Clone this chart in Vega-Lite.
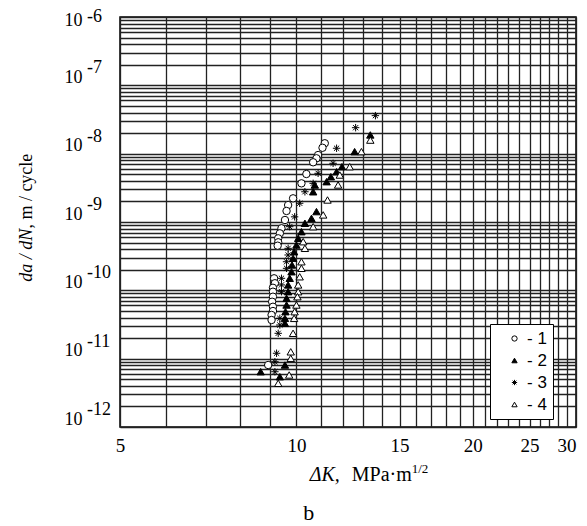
{
  "$schema": "https://vega.github.io/schema/vega-lite/v6.json",
  "width": 456,
  "height": 410,
  "autosize": "none",
  "padding": {"left": 120, "top": 17, "right": 11, "bottom": 99},
  "background": "white",
  "datasets": {
    "points": [
      {"s":"1","K":11.18,"v":1.42e-8},{"s":"1","K":11.08,"v":1.22e-8},{"s":"1","K":10.89,"v":9.55e-9},{"s":"1","K":10.82,"v":8.55e-9},
      {"s":"1","K":10.68,"v":7.48e-9},{"s":"1","K":10.40,"v":5.04e-9},{"s":"1","K":10.20,"v":3.68e-9},{"s":"1","K":9.87,"v":2.22e-9},
      {"s":"1","K":9.68,"v":1.77e-9},{"s":"1","K":9.62,"v":1.45e-9},{"s":"1","K":9.56,"v":1.07e-9},{"s":"1","K":9.43,"v":8.09e-10},
      {"s":"1","K":9.37,"v":6.83e-10},{"s":"1","K":9.31,"v":5.77e-10},{"s":"1","K":9.31,"v":5.05e-10},{"s":"1","K":9.29,"v":4.50e-10},
      {"s":"1","K":9.16,"v":1.50e-10},{"s":"1","K":9.19,"v":1.27e-10},{"s":"1","K":9.12,"v":1.09e-10},{"s":"1","K":9.12,"v":9.55e-11},
      {"s":"1","K":9.12,"v":8.07e-11},{"s":"1","K":9.09,"v":6.81e-11},{"s":"1","K":9.12,"v":5.75e-11},{"s":"1","K":9.12,"v":4.98e-11},
      {"s":"1","K":9.07,"v":4.36e-11},{"s":"1","K":9.07,"v":3.68e-11},{"s":"1","K":8.95,"v":8.07e-12},
      {"s":"2","K":13.37,"v":1.88e-8},{"s":"2","K":12.57,"v":1.07e-8},{"s":"2","K":11.96,"v":6.44e-9},{"s":"2","K":11.71,"v":5.44e-9},
      {"s":"2","K":11.45,"v":4.60e-9},{"s":"2","K":11.26,"v":3.89e-9},{"s":"2","K":10.75,"v":3.48e-9},{"s":"2","K":10.68,"v":2.77e-9},
      {"s":"2","K":10.82,"v":1.42e-9},{"s":"2","K":10.61,"v":1.13e-9},{"s":"2","K":10.34,"v":9.57e-10},{"s":"2","K":10.20,"v":7.21e-10},
      {"s":"2","K":10.07,"v":5.77e-10},{"s":"2","K":10.0,"v":4.61e-10},{"s":"2","K":9.91,"v":3.67e-10},{"s":"2","K":9.87,"v":2.94e-10},
      {"s":"2","K":9.83,"v":2.35e-10},{"s":"2","K":9.81,"v":1.87e-10},{"s":"2","K":9.74,"v":1.50e-10},{"s":"2","K":9.68,"v":1.20e-10},
      {"s":"2","K":9.68,"v":9.55e-11},{"s":"2","K":9.62,"v":7.64e-11},{"s":"2","K":9.62,"v":6.10e-11},{"s":"2","K":9.58,"v":4.87e-11},
      {"s":"2","K":9.56,"v":3.89e-11},{"s":"2","K":9.56,"v":3.29e-11},{"s":"2","K":9.56,"v":8.07e-12},{"s":"2","K":9.37,"v":5.44e-12},
      {"s":"2","K":8.69,"v":6.44e-12},
      {"s":"3","K":13.64,"v":3.60e-8},{"s":"3","K":12.62,"v":2.40e-8},{"s":"3","K":11.71,"v":1.20e-8},{"s":"3","K":11.55,"v":7.23e-9},
      {"s":"3","K":10.89,"v":5.16e-9},{"s":"3","K":10.68,"v":3.68e-9},{"s":"3","K":10.34,"v":2.77e-9},{"s":"3","K":10.13,"v":1.88e-9},
      {"s":"3","K":9.93,"v":1.19e-9},{"s":"3","K":9.74,"v":8.53e-10},{"s":"3","K":9.68,"v":4.12e-10},{"s":"3","K":9.68,"v":3.29e-10},
      {"s":"3","K":9.62,"v":2.62e-10},{"s":"3","K":9.62,"v":2.10e-10},{"s":"3","K":9.43,"v":1.50e-10},{"s":"3","K":9.43,"v":1.20e-10},
      {"s":"3","K":9.43,"v":9.55e-11},{"s":"3","K":9.37,"v":3.89e-11},{"s":"3","K":9.37,"v":3.11e-11},{"s":"3","K":9.31,"v":2.35e-11},
      {"s":"3","K":9.25,"v":1.20e-11},{"s":"3","K":9.19,"v":9.02e-12},{"s":"3","K":9.19,"v":6.44e-12},
      {"s":"4","K":13.37,"v":1.58e-8},{"s":"4","K":12.91,"v":1.07e-8},{"s":"4","K":12.33,"v":6.44e-9},{"s":"4","K":11.86,"v":4.87e-9},
      {"s":"4","K":11.78,"v":3.48e-9},{"s":"4","K":11.30,"v":2.10e-9},{"s":"4","K":11.11,"v":1.27e-9},{"s":"4","K":10.68,"v":8.53e-10},
      {"s":"4","K":10.27,"v":5.15e-10},{"s":"4","K":10.34,"v":4.12e-10},{"s":"4","K":10.20,"v":2.62e-10},{"s":"4","K":10.20,"v":2.10e-10},
      {"s":"4","K":10.13,"v":1.58e-10},{"s":"4","K":10.07,"v":1.20e-10},{"s":"4","K":10.07,"v":9.55e-11},{"s":"4","K":10.04,"v":8.07e-11},
      {"s":"4","K":10.0,"v":6.10e-11},{"s":"4","K":9.93,"v":4.87e-11},{"s":"4","K":9.91,"v":3.89e-11},{"s":"4","K":9.87,"v":2.35e-11},
      {"s":"4","K":9.78,"v":1.26e-11},{"s":"4","K":9.78,"v":1.01e-11},{"s":"4","K":9.72,"v":5.77e-12},{"s":"4","K":9.31,"v":4.36e-12}
    ],
    "decades": [
      {"v":1e-6,"e":"-6"},{"v":1e-7,"e":"-7"},{"v":1e-8,"e":"-8"},{"v":1e-9,"e":"-9"},
      {"v":1e-10,"e":"-10"},{"v":1e-11,"e":"-11"},{"v":1e-12,"e":"-12"}
    ]
  },
  "layer": [
    {
      "data": {"name": "points"},
      "mark": {"type": "point", "filled": true, "strokeWidth": 1, "opacity": 1, "size": 55},
      "encoding": {
        "x": {
          "field": "K", "type": "quantitative",
          "scale": {"type": "log", "domain": [5, 30], "nice": false},
          "axis": {
            "title": null,
            "values": [5,6,7,8,9,10,11,12,13,14,15,16,17,18,19,20,21,22,23,24,25,26,27,28,29,30],
            "labelExpr": "indexof([5,10,15,20,25,30], datum.value) >= 0 ? '' + datum.value : ''",
            "labelAlign": {"condition": {"test": "datum.value >= 29.9", "value": "right"}, "value": "center"},
            "labelOverlap": false, "labelFlush": false,
            "grid": true, "ticks": false, "domain": false,
            "labelFont": "Liberation Serif", "labelFontSize": 19, "labelColor": "black", "labelPadding": 9
          }
        },
        "y": {
          "field": "v", "type": "quantitative",
          "scale": {"type": "log", "domain": [1e-12, 1e-6], "nice": false},
          "axis": {
            "title": null,
            "values": [1e-12,2e-12,3e-12,4e-12,5e-12,6e-12,7e-12,8e-12,9e-12,
                       1e-11,2e-11,3e-11,4e-11,5e-11,6e-11,7e-11,8e-11,9e-11,
                       1e-10,2e-10,3e-10,4e-10,5e-10,6e-10,7e-10,8e-10,9e-10,
                       1e-9,2e-9,3e-9,4e-9,5e-9,6e-9,7e-9,8e-9,9e-9,
                       1e-8,2e-8,3e-8,4e-8,5e-8,6e-8,7e-8,8e-8,9e-8,
                       1e-7,2e-7,3e-7,4e-7,5e-7,6e-7,7e-7,8e-7,9e-7,1e-6],
            "labelExpr": "abs(log(datum.value)/LN10 - round(log(datum.value)/LN10)) < 0.001 ? '10' : ''",
            "labelOffset": {"condition": {"test": "datum.value > 5e-7", "value": 3}, "value": -8},
            "labelOverlap": false, "labelFlush": false,
            "grid": true, "ticks": false, "domain": false,
            "labelFont": "Liberation Serif", "labelFontSize": 18, "labelColor": "black", "labelPadding": 38
          }
        },
        "shape": {
          "field": "s", "type": "nominal",
          "scale": {"domain": ["1","2","3","4"], "range": ["circle", "triangle-up", "M-1,0L1,0M0,-1L0,1M-0.7,-0.7L0.7,0.7M-0.7,0.7L0.7,-0.7", "triangle-up"]},
          "legend": {"title": null, "orient": "none", "legendX": 370, "legendY": 307, "labelExpr": "'- ' + datum.label"}
        },
        "fill": {
          "field": "s", "type": "nominal",
          "scale": {"domain": ["1","2","3","4"], "range": ["white", "black", "white", "white"]},
          "legend": {"title": null, "orient": "none", "legendX": 370, "legendY": 307, "labelExpr": "'- ' + datum.label"}
        },
        "stroke": {
          "field": "s", "type": "nominal",
          "scale": {"domain": ["1","2","3","4"], "range": ["black", "black", "black", "black"]},
          "legend": {"title": null, "orient": "none", "legendX": 370, "legendY": 307, "labelExpr": "'- ' + datum.label"}
        }
      }
    },
    {
      "data": {"name": "decades"},
      "mark": {"type": "text", "align": "left", "baseline": "middle", "font": "Liberation Serif", "fontSize": 18, "color": "black", "dx": -33, "dy": {"expr": "datum.v > 5e-7 ? 0 : -17"}},
      "encoding": {
        "x": {"datum": 5, "type": "quantitative"},
        "y": {"field": "v", "type": "quantitative"},
        "text": {"field": "e"}
      }
    },
    {
      "data": {"values": [{"t": "da / dN"}]},
      "mark": {"type": "text", "angle": 270, "align": "right", "baseline": "middle", "font": "Liberation Serif", "fontStyle": "italic", "fontSize": 18, "color": "black", "dy": -93},
      "encoding": {
        "x": {"datum": 5, "type": "quantitative"},
        "y": {"datum": 8e-10, "type": "quantitative"},
        "text": {"field": "t"}
      }
    },
    {
      "data": {"values": [{"t": " , m / cycle"}]},
      "mark": {"type": "text", "angle": 270, "align": "left", "baseline": "middle", "font": "Liberation Serif", "fontSize": 18, "color": "black", "dy": -93},
      "encoding": {
        "x": {"datum": 5, "type": "quantitative"},
        "y": {"datum": 8e-10, "type": "quantitative"},
        "text": {"field": "t"}
      }
    },
    {
      "data": {"values": [{"t": "ΔK,"}]},
      "mark": {"type": "text", "align": "left", "baseline": "alphabetic", "font": "Liberation Serif", "fontStyle": "italic", "fontSize": 20, "color": "black", "dy": 54},
      "encoding": {
        "x": {"datum": 10.54, "type": "quantitative"},
        "y": {"datum": 1e-12, "type": "quantitative"},
        "text": {"field": "t"}
      }
    },
    {
      "data": {"values": [{"t": "MPa·m"}]},
      "mark": {"type": "text", "align": "left", "baseline": "alphabetic", "font": "Liberation Serif", "fontSize": 20, "color": "black", "dy": 54},
      "encoding": {
        "x": {"datum": 12.43, "type": "quantitative"},
        "y": {"datum": 1e-12, "type": "quantitative"},
        "text": {"field": "t"}
      }
    },
    {
      "data": {"values": [{"t": "1/2"}]},
      "mark": {"type": "text", "align": "left", "baseline": "alphabetic", "font": "Liberation Serif", "fontSize": 13, "color": "black", "dy": 46},
      "encoding": {
        "x": {"datum": 15.73, "type": "quantitative"},
        "y": {"datum": 1e-12, "type": "quantitative"},
        "text": {"field": "t"}
      }
    },
    {
      "data": {"values": [{"t": "b"}]},
      "mark": {"type": "text", "align": "center", "baseline": "alphabetic", "font": "Liberation Serif", "fontSize": 22, "color": "black", "dy": 93},
      "encoding": {
        "x": {"datum": 10.5, "type": "quantitative"},
        "y": {"datum": 1e-12, "type": "quantitative"},
        "text": {"field": "t"}
      }
    }
  ],
  "config": {
    "view": {"stroke": "black", "strokeWidth": 1.5},
    "axis": {"gridColor": "#222222", "gridWidth": 1.3, "gridOpacity": 1},
    "legend": {
      "padding": 6, "fillColor": "white", "strokeColor": "black",
      "labelFont": "Liberation Sans", "labelFontSize": 17, "labelColor": "black",
      "symbolSize": 28, "symbolStrokeWidth": 1, "symbolOffset": 10,
      "rowPadding": 4, "labelOffset": 4
    }
  }
}
